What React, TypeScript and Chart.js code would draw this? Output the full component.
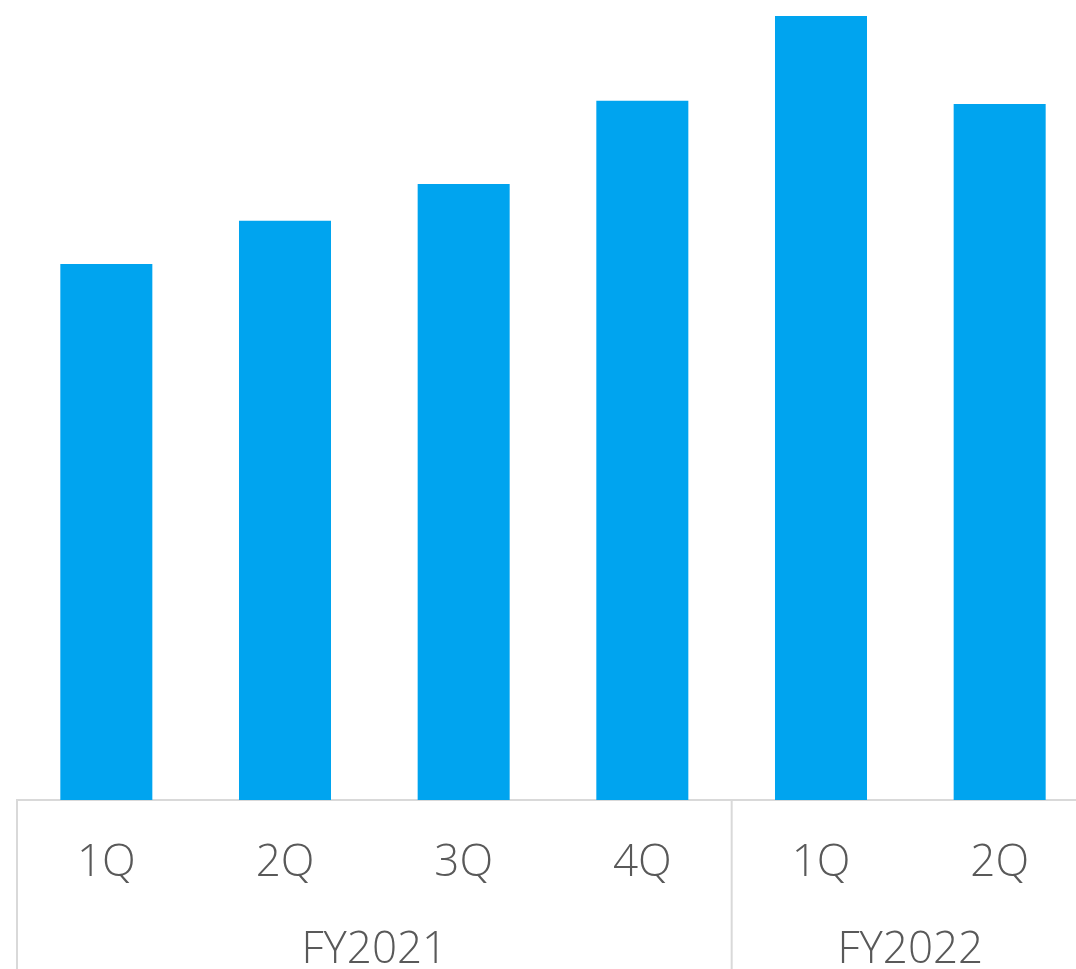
import React, { useEffect, useRef } from "react";
import { Chart, registerables } from "chart.js";

Chart.register(...registerables);

const quarters = ["1Q", "2Q", "3Q", "4Q", "1Q", "2Q"];
const values = [67.0, 72.4, 77.0, 87.4, 98.0, 87.0];
const groups = ["FY2021", "FY2022"];
const groupSizes = [4, 2];

const FONT = "'Open Sans', 'Noto Sans', sans-serif";
const LINE = "#d9d9d9";
const TEXT = "#595959";

const groupPlugin = {
  id: "groupPlugin",
  afterDraw(chart: any) {
    const ctx = chart.ctx;
    const x = chart.scales.x;
    const area = chart.chartArea;
    const half = (x.getPixelForValue(1) - x.getPixelForValue(0)) / 2;
    ctx.save();
    ctx.strokeStyle = LINE;
    ctx.lineWidth = 2;
    let start = 0;
    groupSizes.forEach((size, gi) => {
      const left = x.getPixelForValue(start) - half;
      ctx.beginPath();
      ctx.moveTo(left, area.bottom);
      ctx.lineTo(left, chart.height);
      ctx.stroke();
      const center = (x.getPixelForValue(start) + x.getPixelForValue(start + size - 1)) / 2;
      ctx.fillStyle = TEXT;
      ctx.font = `300 44px ${FONT}`;
      ctx.textAlign = "center";
      ctx.textBaseline = "middle";
      ctx.fillText(groups[gi], center, area.bottom + 150);
      start += size;
    });
    ctx.restore();
  },
};

export default function App() {
  const ref = useRef<HTMLCanvasElement>(null);
  useEffect(() => {
    if (!ref.current) return;
    const chart = new Chart(ref.current, {
      type: "bar",
      data: {
        labels: quarters,
        datasets: [
          {
            data: values,
            backgroundColor: "#00a4ef",
            borderWidth: 0,
            categoryPercentage: 1,
            barPercentage: 0.515,
          },
        ],
      },
      options: {
        animation: false,
        responsive: false,
        layout: { padding: { left: 17, right: 1, top: 0, bottom: 0 } },
        plugins: { legend: { display: false }, tooltip: { enabled: false } },
        scales: {
          y: { display: false, min: 0, max: 100 },
          x: {
            grid: { display: false },
            border: { display: true, color: LINE, width: 2 },
            ticks: {
              color: TEXT,
              font: { family: FONT, size: 44, weight: "300" as any },
              padding: 29,
              maxRotation: 0,
            },
            afterFit(scale: any) {
              scale.height = 169;
            },
          },
        },
      },
      plugins: [groupPlugin],
    });
    return () => chart.destroy();
  }, []);
  return (
    <div
      style={{
        position: "fixed",
        left: 0,
        top: 0,
        width: 1076,
        height: 969,
        overflow: "hidden",
        background: "#fff",
      }}
    >
      <canvas ref={ref} width={1090} height={969} style={{ display: "block" }} />
    </div>
  );
}
